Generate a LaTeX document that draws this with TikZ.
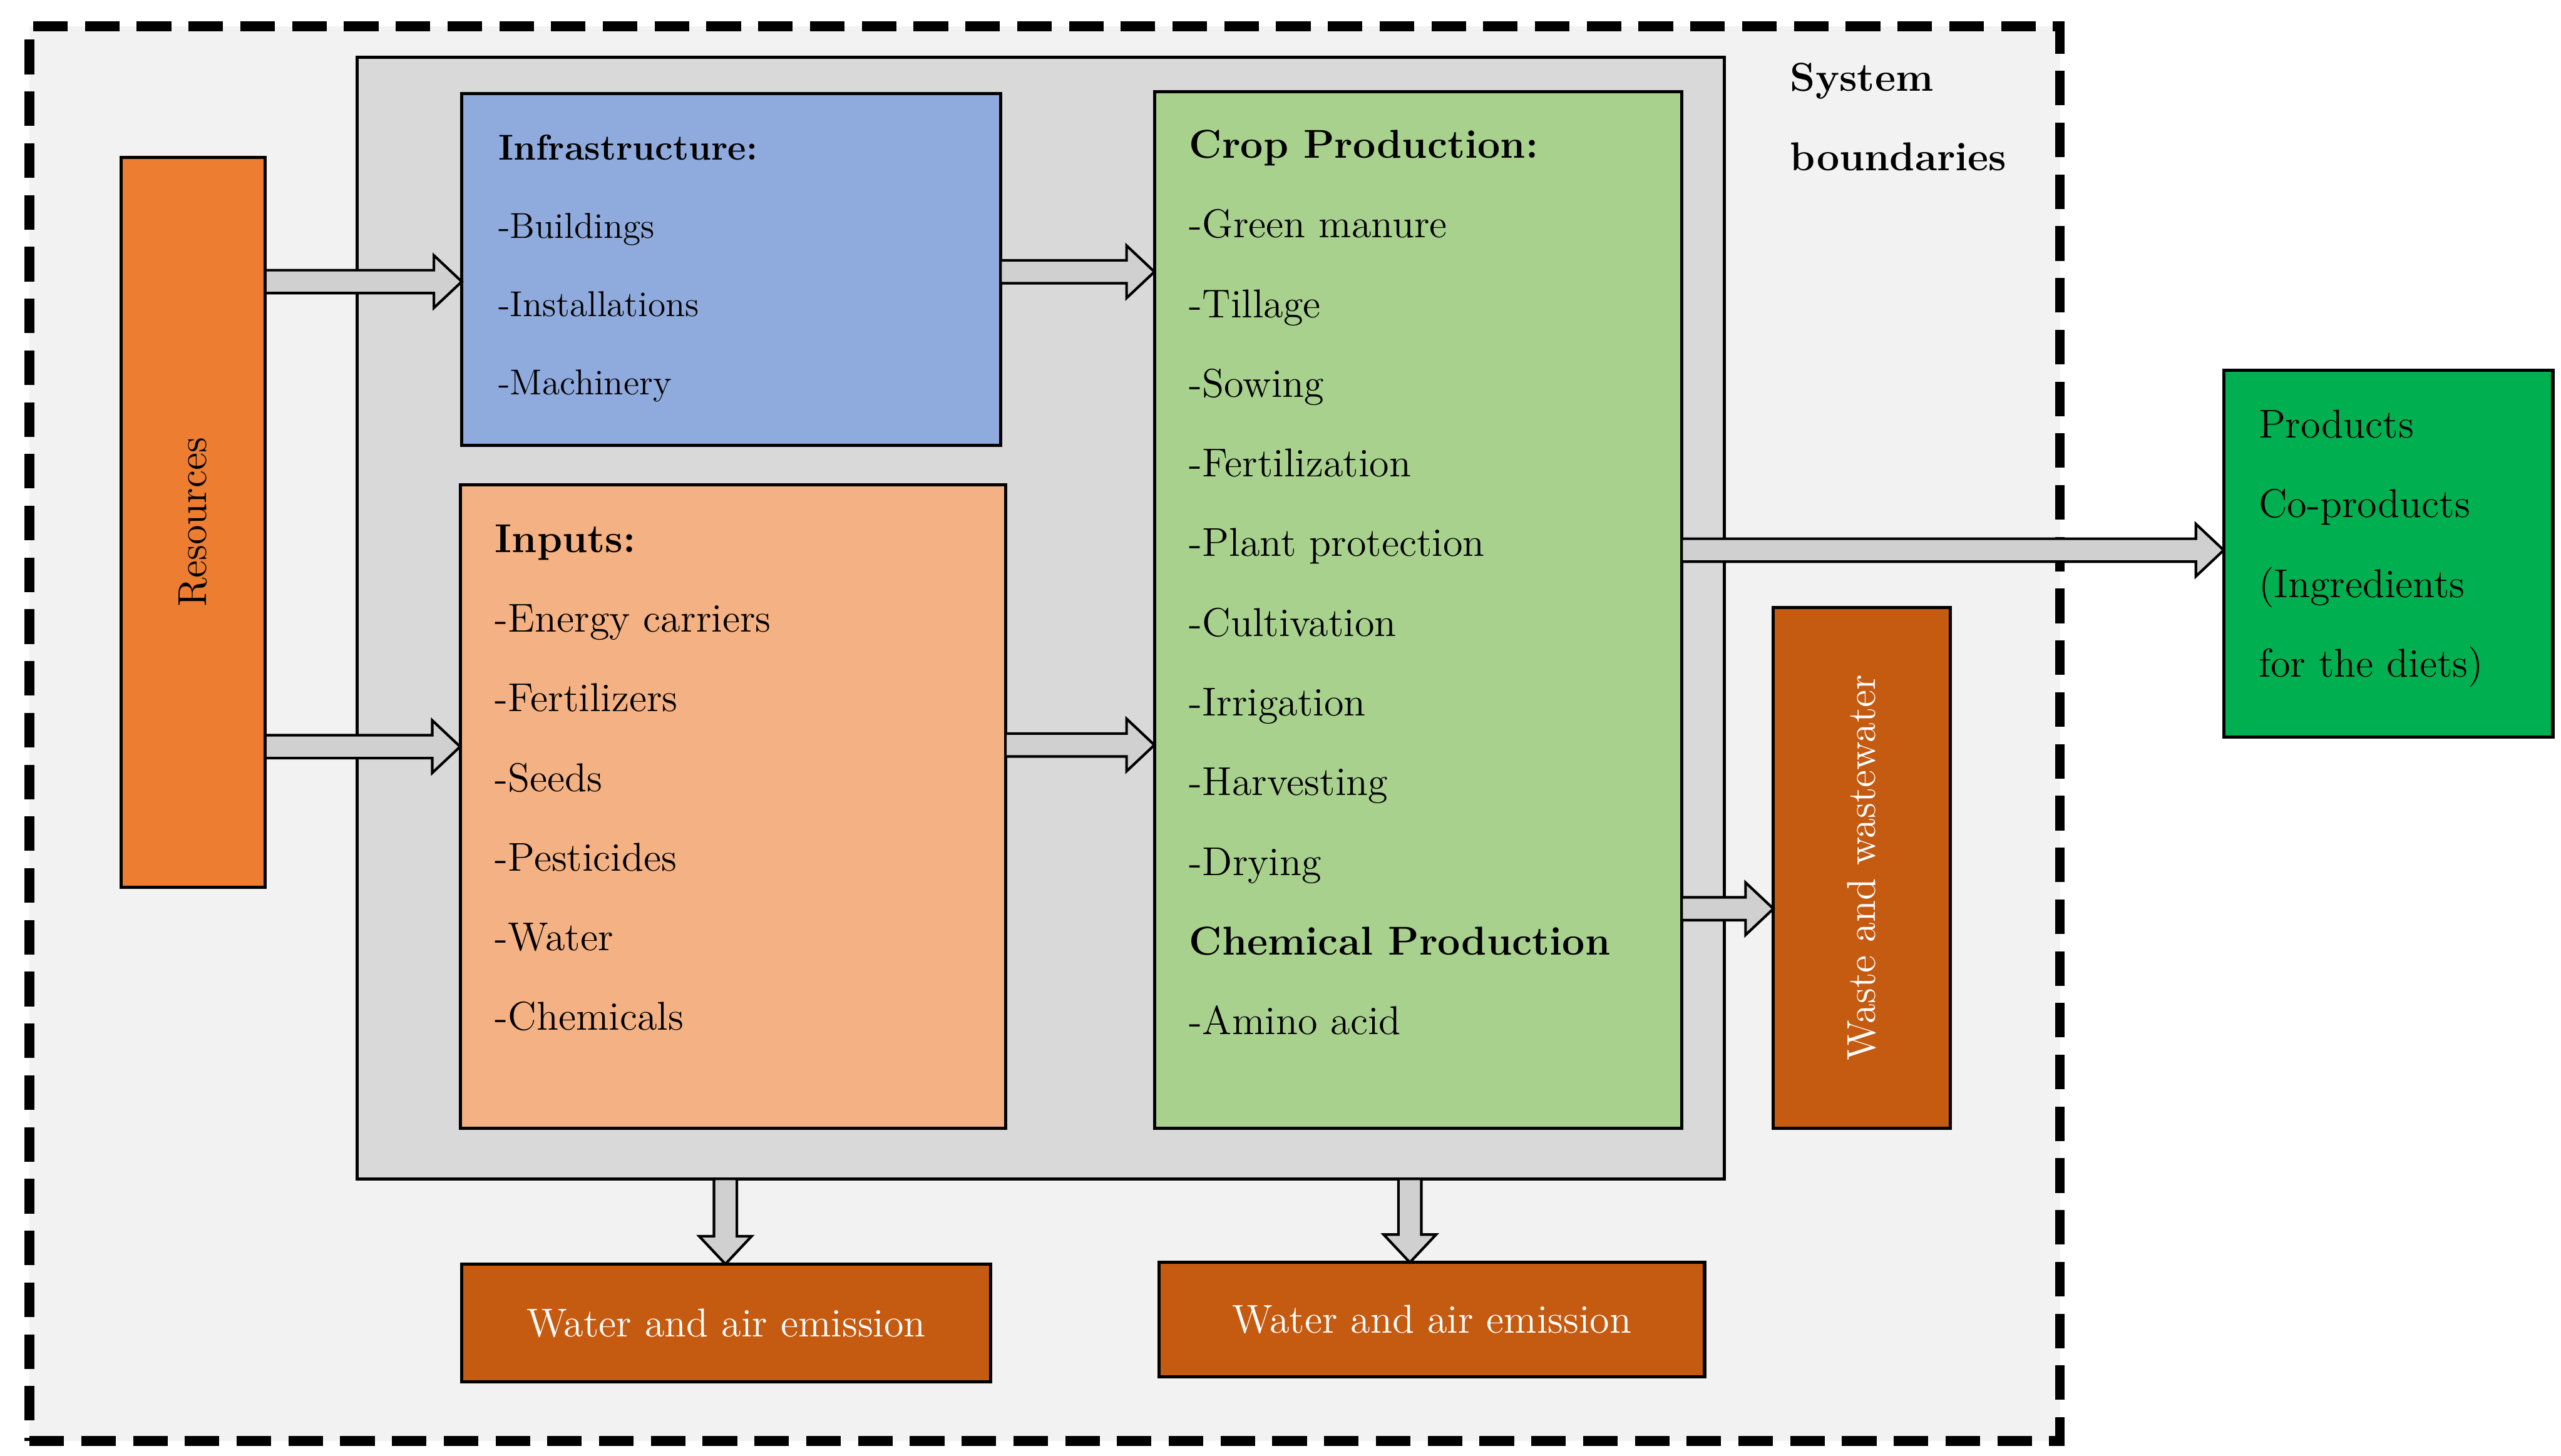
\documentclass[tikz,border=0pt]{standalone}
\usetikzlibrary{fit,calc}
\definecolor{outerbg}{HTML}{F2F2F2}
\definecolor{innerbg}{HTML}{D9D9D9}
\definecolor{resc}{HTML}{ED7D31}
\definecolor{infc}{HTML}{8FAADC}
\definecolor{inpc}{HTML}{F4B183}
\definecolor{cropc}{HTML}{A9D18E}
\definecolor{wastec}{HTML}{C55A11}
\definecolor{prodc}{HTML}{00B050}
\definecolor{arrc}{HTML}{D0D0D0}
\tikzset{
 box/.style={draw=black, line width=1.1pt, inner sep=0pt},
 txt/.style={anchor=north west, inner sep=0pt, align=left, font=\fontsize{14}{27.7}\selectfont},
 arr/.style={draw=black, line width=0.9pt, fill=arrc, line join=miter},
}
\newcommand\harr[2]{\draw[arr] ($(#1)+(0,-7)$) -- ($(#2)+(-17,-7)$) -- ($(#2)+(-17,-16)$) -- (#2) -- ($(#2)+(-17,16)$) -- ($(#2)+(-17,7)$) -- ($(#1)+(0,7)$) -- cycle;}
\newcommand\varr[2]{\draw[arr] ($(#1)+(-7,0)$) -- ($(#2)+(-7,-17)$) -- ($(#2)+(-16,-17)$) -- (#2) -- ($(#2)+(16,-17)$) -- ($(#2)+(7,-17)$) -- ($(#1)+(7,0)$) -- cycle;}
\begin{document}
\begin{tikzpicture}[x=0.02cm,y=-0.02cm]
\useasboundingbox (0,0) rectangle (1564,889);
\node[fit={(18,16)(1258,880)}, inner sep=0pt, draw=black, fill=outerbg, line width=3.4pt, dash pattern=on 12pt off 6pt] (sys) {};
\node[txt, font=\bfseries\fontsize{14}{27.7}\selectfont] (sb) at (1093,38) {System\\boundaries};
\node[fit={(218,35)(1053,720)}, box, fill=innerbg] (core) {};
\node[fit={(74,96)(162,542)}, box, fill=resc] (res) {};
\node[rotate=90, font=\fontsize{14}{16}\selectfont] (rest) at (res.center) {Resources};
\node[fit={(282,57)(611,272)}, box, fill=infc] (inf) {};
\node[txt, font=\fontsize{12.5}{27.2}\selectfont] (inft) at (304,82) {\textbf{Infrastructure:}\\-Buildings\\-Installations\\-Machinery};
\node[fit={(281,296)(614,689)}, box, fill=inpc] (inp) {};
\node[txt] (inpt) at (302,320) {\textbf{Inputs:}\\-Energy carriers\\-Fertilizers\\-Seeds\\-Pesticides\\-Water\\-Chemicals};
\node[fit={(705,56)(1027,689)}, box, fill=cropc] (crop) {};
\node[txt] (cropt) at (726,79) {\textbf{Crop Production:}\\-Green manure\\-Tillage\\-Sowing\\-Fertilization\\-Plant protection\\-Cultivation\\-Irrigation\\-Harvesting\\-Drying\\\textbf{Chemical Production}\\-Amino acid};
\node[fit={(1083,371)(1191,689)}, box, fill=wastec] (waste) {};
\node[rotate=90, text=white, font=\fontsize{14}{16}\selectfont] (wastet) at (waste.center) {Waste and wastewater};
\node[fit={(1358,226)(1559,450)}, box, fill=prodc] (prod) {};
\node[txt] (prodt) at (1379,250) {Products\\Co-products\\(Ingredients\\for the diets)};
\node[fit={(282,772)(605,844)}, box, fill=wastec, text=white, font=\fontsize{14}{16}\selectfont] (em1) {};
\node[text=white, font=\fontsize{14}{16}\selectfont] (em1t) at (em1.center) {Water and air emission};
\node[fit={(708,771)(1041,841)}, box, fill=wastec] (em2) {};
\node[text=white, font=\fontsize{14}{16}\selectfont] (em2t) at (em2.center) {Water and air emission};
\coordinate (a1s) at (162,172); \coordinate (a1e) at (282,172);
\coordinate (a2s) at (162,456); \coordinate (a2e) at (281,456);
\coordinate (a3s) at (611,166); \coordinate (a3e) at (705,166);
\coordinate (a4s) at (614,455); \coordinate (a4e) at (705,455);
\coordinate (a5s) at (1027,336); \coordinate (a5e) at (1358,336);
\coordinate (a6s) at (1027,555); \coordinate (a6e) at (1083,555);
\coordinate (a7s) at (443,720); \coordinate (a7e) at (443,772);
\coordinate (a8s) at (861,720); \coordinate (a8e) at (861,771);
\harr{a1s}{a1e}\harr{a2s}{a2e}\harr{a3s}{a3e}\harr{a4s}{a4e}\harr{a5s}{a5e}\harr{a6s}{a6e}
\varr{a7s}{a7e}\varr{a8s}{a8e}
\end{tikzpicture}
\end{document}
